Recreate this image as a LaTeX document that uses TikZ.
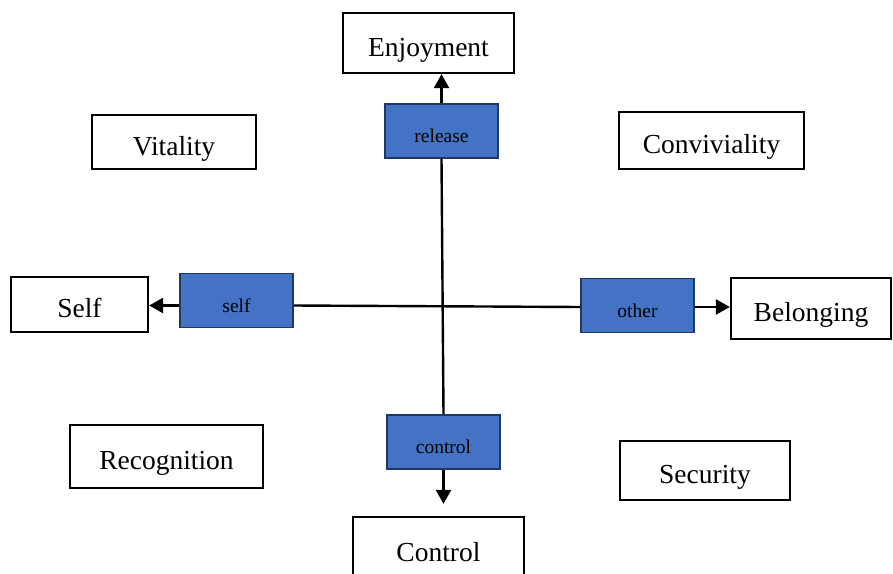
\documentclass[tikz,border=0pt]{standalone}
\usepackage{fontspec}
\setmainfont{Liberation Serif}
\usepackage{xcolor}
\usepackage{tikz}
\usetikzlibrary{arrows.meta}
\definecolor{fillblue}{HTML}{4472C4}
\definecolor{navy}{HTML}{1F3864}
\tikzset{
  quad/.style={draw=black, fill=white, line width=2.3pt, font=\fontsize{27.5}{30}\selectfont,
    text height=28pt, text depth=2pt, inner sep=0pt},
  pole/.style={draw=navy, fill=fillblue, line width=1.8pt, font=\fontsize{19.5}{22}\selectfont,
    text height=24pt, text depth=1pt, inner sep=0pt, minimum width=113pt, minimum height=54pt},
  link/.style={draw=black, line width=2.4pt},
  arr/.style={link, -{Triangle[length=14pt,width=15pt]}},
}

\begin{document}
\begin{tikzpicture}[x=1pt,y=-1pt]
  \useasboundingbox (0,0) rectangle (893,573);
  % quadrant labels
  \node[quad, minimum width=171pt, minimum height=60pt] (enj) at (428.5,43) {Enjoyment};
  \node[quad, minimum width=164pt, minimum height=54pt] (vit) at (174,142) {Vitality};
  \node[quad, minimum width=185pt, minimum height=57pt] (conv) at (711.5,140.5) {Conviviality};
  \node[quad, minimum width=137pt, minimum height=55pt] (selfq) at (79.5,304.5) {Self};
  \node[quad, minimum width=160pt, minimum height=61pt] (bel) at (811,308.5) {Belonging};
  \node[quad, minimum width=193pt, minimum height=63pt] (rec) at (166.5,456.5) {Recognition};
  \node[quad, minimum width=170pt, minimum height=59pt] (sec) at (705,470.5) {Security};
  \node[quad, minimum width=171pt, minimum height=62pt] (ctrl) at (438.5,548) {Control};
  % axis poles
  \node[pole] (rel) at (441.5,131) {release};
  \node[pole] (selfp) at (236.5,300.5) {self};
  \node[pole] (oth) at (637.5,305.5) {other};
  \node[pole] (ctl) at (443.5,442) {control};
  % axes
  \coordinate (hl) at ([yshift=-5pt]selfp.east);
  \coordinate (hr) at ([yshift=-1.5pt]oth.west);
  \draw[link] (rel.south) -- (ctl.north);
  \draw[link] (hl) -- (hr);
  \draw[arr] (rel.north) -- (rel.north |- enj.south);
  \draw[arr] (hl -| selfp.west) -- (hl -| selfq.east);
  \draw[arr] (hr -| oth.east) -- (hr -| bel.west);
  \draw[arr] (ctl.south) -- ([yshift=12pt]ctl.south |- ctrl.north);
\end{tikzpicture}
\end{document}
